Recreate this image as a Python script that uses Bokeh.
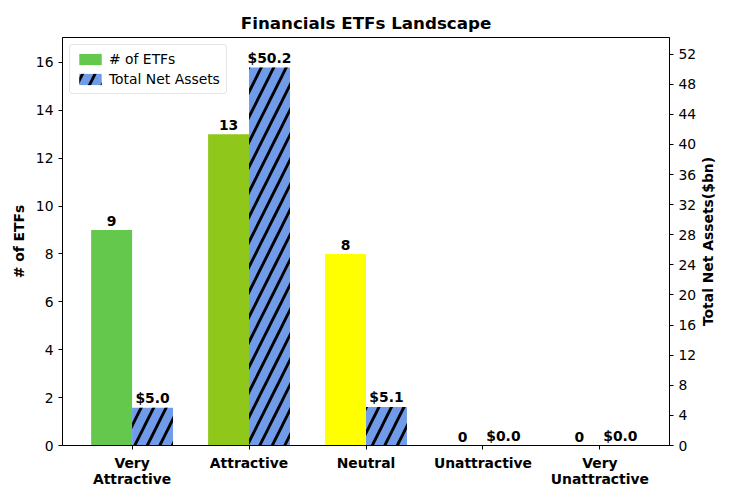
import math
import numpy as np
from bokeh.plotting import figure
from bokeh.models import (ColumnDataSource, Range1d, LinearAxis, FixedTicker,
                          Legend, LegendItem, Label)
from bokeh.embed import file_html
from bokeh.resources import INLINE

# ---- data ----
categories = ["Very\nAttractive", "Attractive", "Neutral", "Unattractive", "Very\nUnattractive"]
etf_counts = [9, 13, 8, 0, 0]
net_assets = [5.0, 50.2, 5.1, 0.0, 0.0]
bar_colors = ["#64c84c", "#8fc71a", "#ffff00", "#ff9900", "#ff0000"]
asset_color = "#6f9be8"
title = "Financials ETFs Landscape"
left_label = "# of ETFs"
right_label = "Total Net Assets($bn)"

FONT = "DejaVu Sans"
FS = "13.9px"
bar_w = 0.35
x = np.arange(len(categories))
x_lo, x_hi = -0.595, len(categories) - 1 + 0.595
y_hi = 17.04
a_hi = 54.2

src_etf = ColumnDataSource(dict(
    x=x - bar_w / 2, top=etf_counts, color=bar_colors,
    label=[str(v) for v in etf_counts]))
src_tna = ColumnDataSource(dict(
    x=x + bar_w / 2, top=net_assets,
    label=["${:.1f}".format(v) for v in net_assets]))

p = figure(width=730, height=500, output_backend="svg", toolbar_location=None,
           x_range=Range1d(x_lo, x_hi), y_range=Range1d(0, y_hi),
           min_border_left=62, min_border_right=61, min_border_top=37,
           min_border_bottom=55)
p.extra_y_ranges = {"assets": Range1d(0, a_hi)}

p.title.text = title
p.title.align = "center"
p.title.text_font = FONT
p.title.text_font_size = "16.7px"
p.title.text_font_style = "bold"
p.title.text_color = "black"

r1 = p.vbar(x="x", top="top", width=bar_w, source=src_etf, fill_color="color",
            line_color=None)
r2 = p.vbar(x="x", top="top", width=bar_w, source=src_tna, y_range_name="assets",
            fill_color=asset_color, line_color=None, hatch_pattern="/",
            hatch_color="black", hatch_weight=2.8, hatch_scale=25)

p.text(x="x", y="top", text="label", source=src_etf, text_align="center",
       text_baseline="bottom", y_offset=-4, text_font_size=FS,
       text_font_style="bold", text_font={"value": FONT}, text_color="black")
p.text(x="x", y="top", text="label", source=src_tna, y_range_name="assets",
       text_align="center", text_baseline="bottom", y_offset=-2,
       text_font_size=FS, text_font_style="bold", text_font={"value": FONT},
       text_color="black")

right = LinearAxis(y_range_name="assets",
                   ticker=FixedTicker(ticks=list(range(0, 53, 4))))
p.add_layout(right, "right")

# right-axis title, reading bottom-to-top as in the reference
p.add_layout(Label(x=x_hi, y=y_hi / 2, x_offset=38, text=right_label,
                   angle=math.pi / 2, text_align="center", text_baseline="middle",
                   text_font=FONT, text_font_size=FS, text_font_style="bold",
                   text_color="black"), "right")

p.xaxis.ticker = FixedTicker(ticks=list(x))
p.xaxis.major_label_overrides = {int(i): c for i, c in zip(x, categories)}
p.yaxis[0].ticker = FixedTicker(ticks=list(range(0, 17, 2)))
p.yaxis[0].axis_label = left_label

for ax in p.xaxis + p.yaxis:
    ax.major_label_text_font = FONT
    ax.major_label_text_font_size = FS
    ax.major_label_text_color = "black"
    ax.axis_label_text_font = FONT
    ax.axis_label_text_font_size = FS
    ax.axis_label_text_font_style = "bold"
    ax.axis_label_text_color = "black"
    ax.axis_label_standoff = 6
    ax.minor_tick_line_color = None
    ax.major_tick_in = 0
    ax.major_tick_out = 4
    ax.axis_line_color = "black"
    ax.major_tick_line_color = "black"
p.xaxis.major_label_text_font_style = "bold"
p.xaxis.major_label_text_line_height = 1.0

p.xgrid.visible = False
p.ygrid.visible = False
p.outline_line_color = "black"
p.outline_line_width = 1

legend = Legend(items=[LegendItem(label="# of ETFs", renderers=[r1], index=0),
                       LegendItem(label="Total Net Assets", renderers=[r2], index=0)],
                location="top_left")
legend.label_text_font = FONT
legend.label_text_font_size = FS
legend.label_text_color = "black"
legend.border_line_color = "#cccccc"
legend.border_radius = 4
legend.glyph_width = 28
legend.glyph_height = 14
legend.spacing = 4
legend.padding = 6
legend.margin = 7
p.add_layout(legend)

open("out.html", "w").write(file_html(p, INLINE))
